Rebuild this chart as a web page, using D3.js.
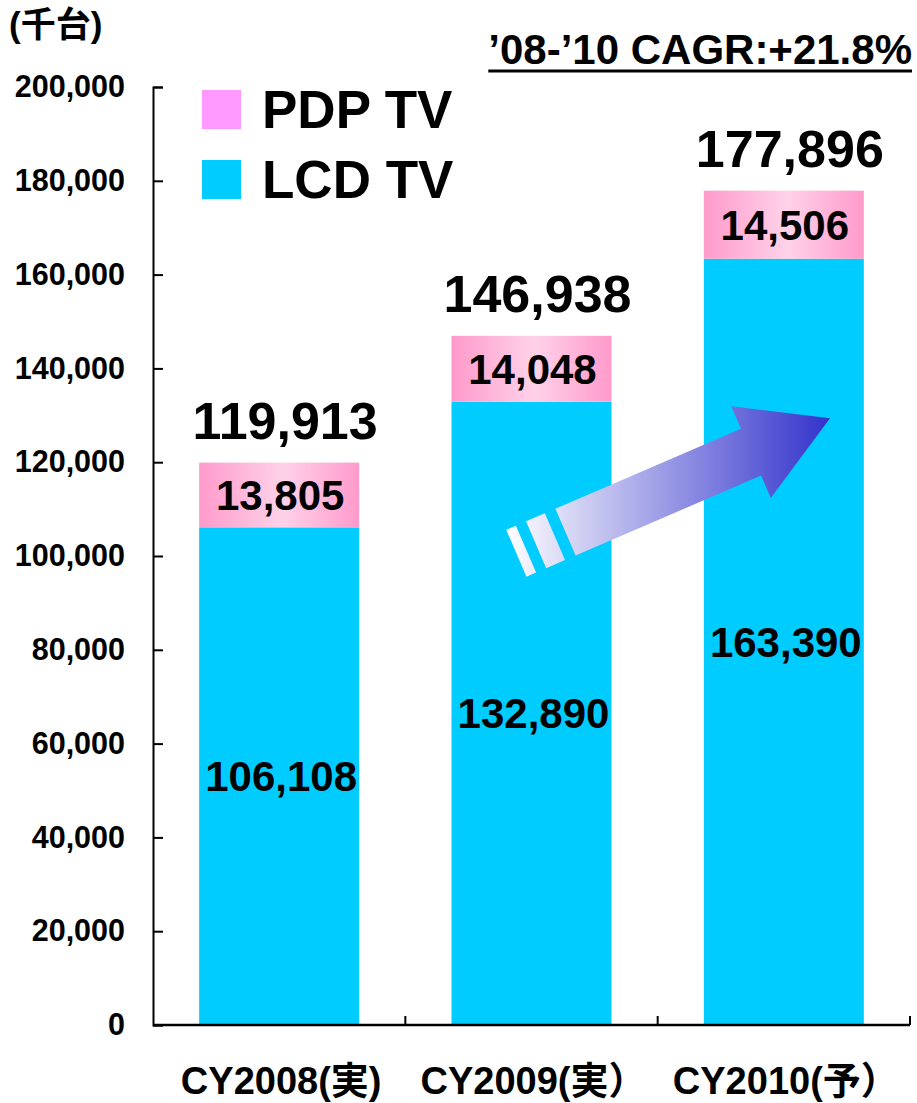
<!DOCTYPE html>
<html>
<head>
<meta charset="utf-8">
<script src="https://cdn.jsdelivr.net/npm/d3@7"></script>
<style>
  body { margin: 0; background: #fff; }
  text { font-family: "Liberation Sans", Arial, "Noto Sans CJK JP", sans-serif; font-weight: bold; }
</style>
</head>
<body>
<div id="chart"></div>
<script>
// datos del gráfico (千台)
const categories = ["CY2008(実)", "CY2009(実）", "CY2010(予）"];
const lcdValues = [106108, 132890, 163390];
const pdpValues = [13805, 14048, 14506];
const totalValues = [119913, 146938, 177896];
const yTicks = [0, 20000, 40000, 60000, 80000, 100000, 120000, 140000, 160000, 180000, 200000];
const legendLabels = ["PDP TV", "LCD TV"];
const unitLabel = "(千台)";
const cagrLabel = "’08-’10 CAGR:+21.8%";

const width = 917, height = 1103;
const colorLcd = "#00CCFF";
const colorPdpLegend = "#FF99FF";

const svg = d3.select("#chart").append("svg")
    .attr("width", width)
    .attr("height", height);

// degradados
const defs = svg.append("defs");
const pdpGrad = defs.append("linearGradient").attr("id", "pdpGrad")
    .attr("x1", "0%").attr("x2", "100%").attr("y1", "0%").attr("y2", "0%");
pdpGrad.append("stop").attr("offset", "0%").attr("stop-color", "#FF9ACB");
pdpGrad.append("stop").attr("offset", "52%").attr("stop-color", "#FFD2E9");
pdpGrad.append("stop").attr("offset", "100%").attr("stop-color", "#FF9ACB");

// escalas
const x = d3.scaleBand()
    .domain(categories)
    .range([153, 910])
    .paddingInner(0.366)
    .paddingOuter(0.183);

const y = d3.scaleLinear()
    .domain([0, 200000])
    .range([1025, 87]);

// barras LCD
svg.append("g").selectAll("rect")
    .data(categories)
    .enter()
    .append("rect")
    .attr("x", d => x(d))
    .attr("width", x.bandwidth())
    .attr("y", (d, i) => y(lcdValues[i]))
    .attr("height", (d, i) => y(0) - y(lcdValues[i]))
    .attr("fill", colorLcd);

// barras PDP (apiladas)
svg.append("g").selectAll("rect")
    .data(categories)
    .enter()
    .append("rect")
    .attr("x", d => x(d))
    .attr("width", x.bandwidth())
    .attr("y", (d, i) => y(lcdValues[i] + pdpValues[i]))
    .attr("height", (d, i) => y(lcdValues[i]) - y(lcdValues[i] + pdpValues[i]))
    .attr("fill", "url(#pdpGrad)");

// eje Y
const yAxis = svg.append("g")
    .attr("transform", `translate(${x.range()[0]},0)`)
    .call(d3.axisLeft(y).tickValues(yTicks).tickFormat(d3.format(",")).tickSize(-10).tickPadding(28));
yAxis.select(".domain").attr("stroke", "#000").attr("stroke-width", 2);
yAxis.selectAll(".tick line").attr("stroke", "#000").attr("stroke-width", 2);
yAxis.selectAll(".tick text")
    .attr("fill", "#000")
    .style("font-size", "30.5px")
    .style("font-family", '"Liberation Sans", Arial, sans-serif')
    .style("font-weight", "bold");

// eje X con marcas entre categorías
const step = x.step();
const xAxis = svg.append("g");
xAxis.append("line")
    .attr("x1", x.range()[0]).attr("x2", x.range()[1])
    .attr("y1", y(0)).attr("y2", y(0))
    .attr("stroke", "#000").attr("stroke-width", 2.5);
const boundaries = categories.map(c => x(c) + x.bandwidth() + step * x.paddingInner() / 2);
xAxis.selectAll("line.tk")
    .data(boundaries)
    .enter()
    .append("line")
    .attr("class", "tk")
    .attr("x1", d => d).attr("x2", d => d)
    .attr("y1", y(0)).attr("y2", y(0) - 9)
    .attr("stroke", "#000").attr("stroke-width", 2);
xAxis.selectAll("text")
    .data(categories)
    .enter()
    .append("text")
    .attr("x", d => x(d) + x.bandwidth() / 2 + 2)
    .attr("y", 1094)
    .attr("text-anchor", "middle")
    .style("font-size", "38px")
    .text(d => d);

// etiquetas de valores
svg.append("g").selectAll("text")
    .data(categories)
    .enter()
    .append("text")
    .attr("x", d => x(d) + x.bandwidth() / 2 + 2)
    .attr("y", (d, i) => y((lcdValues[i]) / 2))
    .attr("dy", "0.36em")
    .attr("text-anchor", "middle")
    .style("font-size", "42px")
    .text((d, i) => d3.format(",")(lcdValues[i]));

svg.append("g").selectAll("text")
    .data(categories)
    .enter()
    .append("text")
    .attr("x", d => x(d) + x.bandwidth() / 2 + 1)
    .attr("y", (d, i) => y(lcdValues[i] + pdpValues[i] / 2))
    .attr("dy", "0.36em")
    .attr("text-anchor", "middle")
    .style("font-size", "42px")
    .text((d, i) => d3.format(",")(pdpValues[i]));

svg.append("g").selectAll("text")
    .data(categories)
    .enter()
    .append("text")
    .attr("x", d => x(d) + x.bandwidth() / 2 + 6)
    .attr("y", (d, i) => y(totalValues[i]) - 24)
    .attr("text-anchor", "middle")
    .style("font-size", "52px")
    .text((d, i) => d3.format(",")(totalValues[i]));

// flecha de crecimiento (decorativa)
const arrowOrigin = [x(categories[1]) + x.bandwidth() / 2 + 34, y(105100)];
const arrowAngle = -23.3;
const arrowGrad = defs.append("linearGradient").attr("id", "arrowGrad")
    .attr("gradientUnits", "userSpaceOnUse")
    .attr("x1", 505).attr("x2", 830).attr("y1", 0).attr("y2", 0);
arrowGrad.append("stop").attr("offset", "0%").attr("stop-color", "#FFFFFF");
arrowGrad.append("stop").attr("offset", "100%").attr("stop-color", "#3333CC");

const arrowG = svg.append("g");
const rot = (pts) => {
    const a = arrowAngle * Math.PI / 180;
    return pts.map(([u, v]) => [
        arrowOrigin[0] + u * Math.cos(a) - v * Math.sin(a),
        arrowOrigin[1] + u * Math.sin(a) + v * Math.cos(a)
    ]);
};
const shaftHalf = 25.5, headHalf = 50, shaftLen = 202, tipLen = 288;
const body = rot([[0, -shaftHalf], [shaftLen, -shaftHalf], [shaftLen, -headHalf], [tipLen, 0],
                  [shaftLen, headHalf], [shaftLen, shaftHalf], [0, shaftHalf]]);
const stripes = [rot([[-32, -shaftHalf], [-11.5, -shaftHalf], [-11.5, shaftHalf], [-32, shaftHalf]]),
                 rot([[-53.5, -shaftHalf], [-43, -shaftHalf], [-43, shaftHalf], [-53.5, shaftHalf]])];
arrowG.selectAll("path")
    .data([body, ...stripes])
    .enter()
    .append("path")
    .attr("d", d => d3.line()(d) + "Z")
    .attr("fill", "url(#arrowGrad)");

// leyenda
const legend = svg.append("g");
const legendColors = [colorPdpLegend, colorLcd];
legendLabels.forEach((lab, i) => {
    legend.append("rect")
        .attr("x", 202).attr("y", 90 + i * 70)
        .attr("width", 39).attr("height", 39)
        .attr("fill", legendColors[i]);
    legend.append("text")
        .attr("x", 262).attr("y", 128 + i * 70)
        .style("font-size", "53px")
        .text(lab);
});

// textos de cabecera
svg.append("text")
    .attr("x", 9).attr("y", 37)
    .style("font-size", "35px")
    .text(unitLabel);

const cagr = svg.append("text")
    .attr("x", 912).attr("y", 64)
    .attr("text-anchor", "end")
    .style("font-size", "42px")
    .text(cagrLabel);
const bb = cagr.node().getBBox();
svg.append("line")
    .attr("x1", bb.x).attr("x2", bb.x + bb.width)
    .attr("y1", 71).attr("y2", 71)
    .attr("stroke", "#000").attr("stroke-width", 3);
</script>
</body>
</html>
